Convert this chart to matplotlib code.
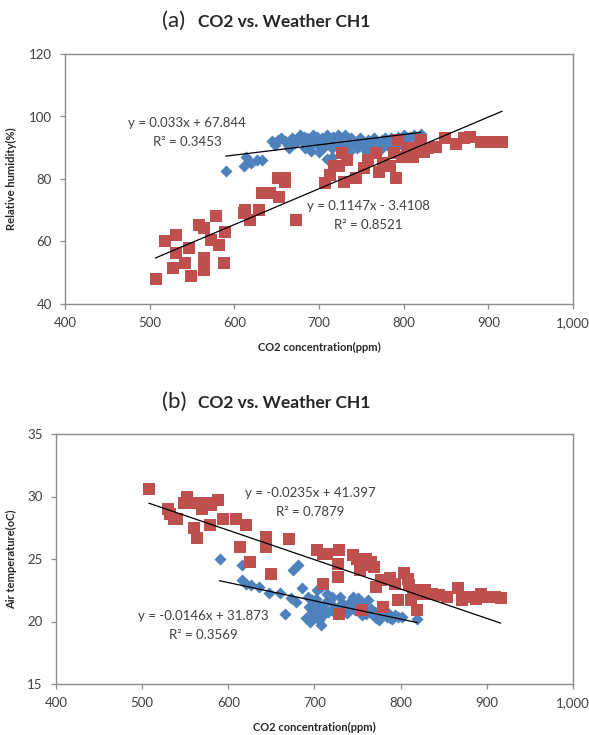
"""Plots CO2 concentration against weather readings (humidity, temperature)."""

import matplotlib
matplotlib.use("Agg")
import matplotlib.pyplot as plt
import numpy as np
from matplotlib.ticker import FuncFormatter

# (a) relative humidity, red series
rh_red_x = [507, 518, 531, 531, 527, 547, 542, 549, 558, 564, 564, 564, 573, 578, 582,
            589, 588, 611, 613, 618, 629, 633, 642, 651, 653, 660, 660, 673, 707, 713,
            718, 724, 729, 727, 733, 744, 753, 758, 767, 771, 776, 784, 791, 789, 793,
            798, 804, 811, 818, 820, 824, 829, 838, 849, 862, 871, 878, 891, 900, 909, 916]
rh_red_y = [48, 60.3, 62, 56.2, 51.4, 57.8, 53, 49, 65.3, 64.2, 54.6, 50.9, 60.5, 68.2, 58.9,
            63.1, 53, 69, 70, 66.9, 70, 75.4, 75.4, 80.2, 74.3, 80.2, 79.1, 66.9, 78.8, 81.3,
            84, 84, 79.1, 88.2, 86, 80.2, 83.4, 86, 88.2, 82.3, 85, 84, 80.2, 88.2, 92.5,
            87.1, 89.8, 87.1, 90.3, 92.5, 88.7, 89.8, 90.3, 93, 91.2, 93, 93.5, 91.9, 91.9, 91.9, 91.9]

# (a) relative humidity, blue series
rh_blue_x = [590, 611, 614, 620, 627, 633, 645, 652, 660, 665, 668, 672, 677, 680, 683,
             686, 690, 693, 696, 700, 703, 706, 709, 712, 715, 717, 720, 723, 726, 729,
             732, 735, 740, 745, 750, 756, 760, 765, 770, 775, 780, 785, 790, 795, 800,
             805, 818, 820, 760, 715, 700, 690, 735, 710, 770,
             648, 655, 663, 675, 682, 688, 698, 705, 711, 719, 725, 731, 738, 743, 748,
             753, 758, 763, 768, 773, 778, 783, 788, 793, 798, 803, 808, 812]
rh_blue_y = [82.7, 84, 87, 85, 86, 86, 92, 92.5, 92, 90, 93, 91.5, 94, 92, 90,
             93, 91, 94, 92, 90.5, 93, 91.5, 94, 92, 90, 93.5, 91, 94, 92.5, 90,
             93, 91, 92, 90, 92, 89, 91, 93, 90.5, 92.5, 91, 93, 90, 92.5, 94,
             93, 93.5, 94.5, 88, 87, 88.5, 89, 88.5, 86.5, 89.5,
             91, 93, 91, 92.5, 93.5, 92, 93.5, 90, 93, 92.5, 91, 94, 93, 91.5, 93,
             91, 92.5, 90, 91.5, 89.5, 93, 91, 92, 93.5, 91, 92, 93.5, 94]

# (b) air temperature, red series
at_red_x = [508, 530, 532, 537, 541, 548, 552, 556, 566, 570, 576, 580, 588, 560, 564,
            579, 594, 609, 620, 614, 625, 644, 644, 649, 670, 703, 710, 714, 710, 727,
            727, 729, 729, 745, 749, 755, 760, 765, 769, 753, 755, 771, 777, 780, 788,
            793, 797, 804, 808, 810, 814, 812, 819, 819, 823, 828, 836, 845, 854, 867,
            871, 880, 887, 893, 900, 909, 916]
at_red_y = [30.6, 29, 28.6, 28.2, 28.2, 29.5, 30, 29.5, 29.5, 29, 29.5, 29.3, 29.7, 27.5, 26.7,
            27.7, 28.2, 28.2, 27.7, 26, 24.8, 26.8, 26, 23.8, 26.6, 25.7, 25.4, 25.4, 23, 23.6,
            24.6, 25.7, 20.6, 25.3, 25, 24.5, 25, 24.8, 24.4, 24.1, 20.9, 22.8, 23.3, 21.2, 23.5,
            23, 21.7, 23.9, 23.4, 22.9, 22.3, 21.7, 20.9, 22.5, 22.2, 22.5, 22.2, 22.1, 22, 22.7,
            21.7, 22, 21.8, 22.2, 22, 22, 21.9]

# (b) air temperature, blue series
at_blue_x = [590, 616, 616, 620, 626, 636, 647, 649, 660, 666, 673, 679, 675, 681, 686,
             692, 697, 701, 690, 695, 697, 703, 708, 705, 708, 710, 714, 718, 723, 727,
             732, 736, 740, 745, 749, 753, 757, 760, 762, 767, 771, 775, 780, 784, 788,
             793, 797, 801, 819,
             694, 699, 702, 706, 712, 716, 720, 725, 730, 734, 738, 743, 747, 751, 755,
             765, 770, 778, 786, 790]
at_blue_y = [25, 24.5, 23.3, 23, 22.9, 22.8, 22.3, 23.8, 22.3, 20.6, 21.9, 21.6, 24.1, 24.5, 22.7,
             22, 21.7, 21.5, 20.3, 20, 20.8, 22.5, 22.8, 20.1, 19.7, 20.5, 22.2, 21.7, 21.2, 21,
             21.5, 20.8, 21.5, 22, 24.9, 21.6, 21.1, 20.6, 21.7, 20.6, 20.3, 20.1, 20.6, 20.4, 20.3,
             20.5, 20.4, 20.4, 20.2,
             21.2, 20.5, 21.8, 21, 21.5, 20.8, 22, 20.6, 22, 21.2, 20.7, 21.3, 20.9, 21.9, 20.5,
             21, 20.8, 20.7, 20.6, 20.2]

# trendline coefficients (slope, intercept, r2) as printed on the chart
rh_red_fit = (0.1147, -3.4108, 0.8521)
rh_blue_fit = (0.033, 67.844, 0.3453)
at_red_fit = (-0.0235, 41.397, 0.7879)
at_blue_fit = (-0.0146, 31.873, 0.3569)

x_ticks = [400, 500, 600, 700, 800, 900, 1000]
rh_ticks = [40, 60, 80, 100, 120]
at_ticks = [15, 20, 25, 30, 35]

BLUE = "#4f81bd"
RED = "#c0504d"
GREY = "#8c8c8c"
TEXT = "#404040"
FONT = "Lato"

plt.rcParams["font.family"] = [FONT, "DejaVu Sans"]


def fit_label(fit):
    """Excel style trendline equation."""
    slope, icpt, r2 = fit
    sign = "+" if icpt >= 0 else "-"
    return f"y = {slope:g}x {sign} {abs(icpt):g}\nR² = {r2:g}"


def trendline(ax, xs, fit):
    slope, icpt, _ = fit
    xx = np.array([min(xs), max(xs)])
    ax.plot(xx, slope * xx + icpt, color="black", lw=0.9, zorder=4)


def draw_panel(ax, red, blue, red_fit, blue_fit, yticks, ylabel,
               red_txt_at, blue_txt_at, ylab_x):
    ax.scatter(*blue, marker="D", s=38, color=BLUE, lw=0, zorder=2)
    ax.scatter(*red, marker="s", s=72, color=RED, lw=0, zorder=3)
    trendline(ax, blue[0], blue_fit)
    trendline(ax, red[0], red_fit)

    ax.text(*blue_txt_at, fit_label(blue_fit), ha="center", va="center",
            fontsize=9.5, color=TEXT, linespacing=1.7, zorder=5)
    ax.text(*red_txt_at, fit_label(red_fit), ha="center", va="center",
            fontsize=9.5, color=TEXT, linespacing=1.7, zorder=5)

    ax.set_xlim(x_ticks[0], x_ticks[-1])
    ax.set_ylim(yticks[0], yticks[-1])
    ax.set_xticks(x_ticks)
    ax.set_yticks(yticks)
    ax.xaxis.set_major_formatter(FuncFormatter(lambda v, _: f"{v:,.0f}"))
    ax.tick_params(length=3.5, width=0.9, color=GREY, labelsize=9.5,
                   labelcolor=TEXT, pad=6)
    for side in ax.spines.values():
        side.set_color(GREY)
        side.set_linewidth(1.0)

    ax.set_xlabel("CO2 concentration(ppm)", fontsize=8, fontweight="bold",
                  color="#262626")
    ax.set_ylabel(ylabel, fontsize=8, fontweight="bold", color="#262626")
    ax.xaxis.set_label_coords(0.5, -0.15)
    ax.yaxis.set_label_coords(ylab_x, 0.5)


def panel_title(fig, letter, y_px):
    H = 735.0
    W = 589.0
    fig.text(162 / W, 1 - y_px / H, f"({letter})", fontsize=16,
             color="#262626", va="baseline", ha="left")
    fig.text(198 / W, 1 - y_px / H, "CO2 vs. Weather CH1", fontsize=12.5,
             fontweight="bold", color="#262626", va="baseline", ha="left")


fig = plt.figure(figsize=(5.89, 7.35), dpi=100)

ax_a = fig.add_axes([65 / 589, 1 - 304 / 735, 508 / 589, 250 / 735])
draw_panel(ax_a, (rh_red_x, rh_red_y), (rh_blue_x, rh_blue_y),
           rh_red_fit, rh_blue_fit, rh_ticks, "Relative humidity(%)",
           red_txt_at=(758, 68.3), blue_txt_at=(544, 94.8), ylab_x=-0.094)
panel_title(fig, "a", 27)

ax_b = fig.add_axes([56 / 589, 1 - 684 / 735, 517 / 589, 250 / 735])
draw_panel(ax_b, (at_red_x, at_red_y), (at_blue_x, at_blue_y),
           at_red_fit, at_blue_fit, at_ticks, "Air temperature(oC)",
           red_txt_at=(695, 29.5), blue_txt_at=(571, 19.7), ylab_x=-0.075)
panel_title(fig, "b", 408)

fig.savefig("out.png", dpi=100)
plt.close()
